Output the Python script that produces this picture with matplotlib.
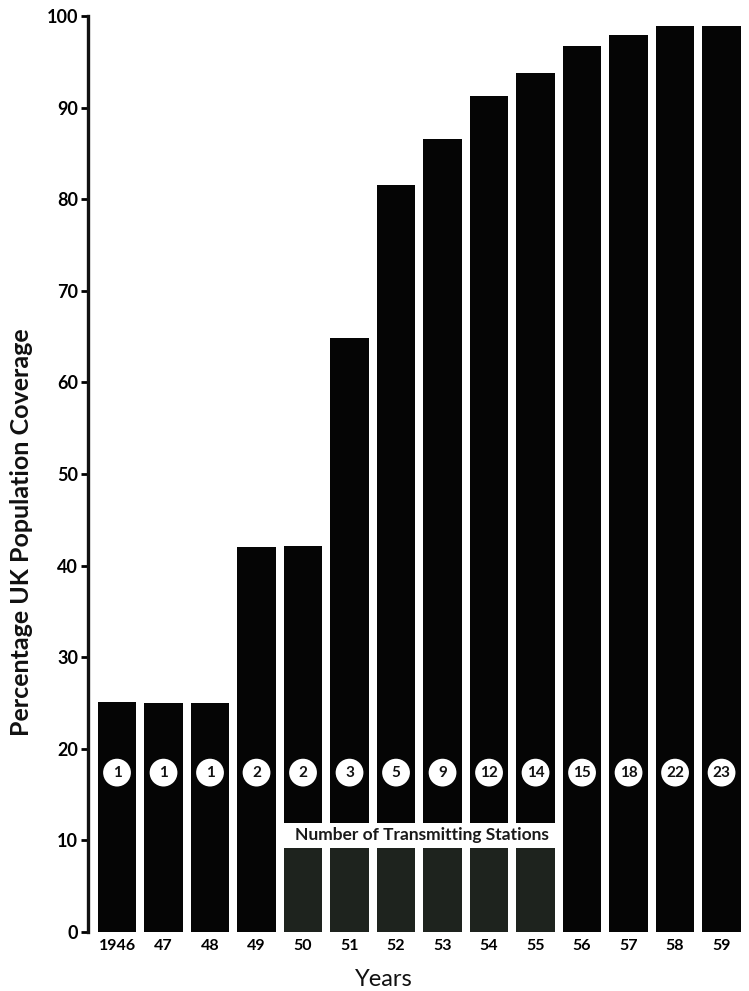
import matplotlib.pyplot as plt
import numpy as np
from matplotlib.patches import Rectangle

years = ["1946", "47", "48", "49", "50", "51", "52", "53", "54", "55", "56", "57", "58", "59"]
coverage = [25.1, 25.0, 25.0, 42.0, 42.1, 64.9, 81.5, 86.6, 91.3, 93.8, 96.7, 97.9, 98.9, 98.9]
stations = [1, 1, 1, 2, 2, 3, 5, 9, 12, 14, 15, 18, 22, 23]

# band across 1950-55 that holds the caption
band_lo, band_hi = 9.2, 11.9
band_bars = range(4, 10)

plt.rcParams['font.family'] = ['Lato', 'DejaVu Sans']

fig = plt.figure(figsize=(7.49, 9.91), dpi=100)
ax = fig.add_axes([88 / 749, 59 / 991, 661 / 749, 916 / 991])

x = np.arange(len(years))
ax.bar(x, coverage, width=0.82, color='#050505', zorder=2)

# white band and the re-drawn lower parts of the bars
ax.add_patch(Rectangle((3.5, band_lo), 6.0, band_hi - band_lo, facecolor='white',
                       edgecolor='none', zorder=3))
low = np.minimum(np.array(coverage)[list(band_bars)], band_lo)
ax.bar(x[list(band_bars)], low, width=0.82, color='#1e231e', zorder=4)
ax.text(6.55, (band_lo + band_hi) / 2, "Number of Transmitting Stations", ha='center',
        va='center', fontsize=12.5, fontweight='bold', color='#1a1a1a', zorder=5)

# station count markers
ax.scatter(x, [17.4] * len(x), s=400, color='white', edgecolors='none', zorder=5)
for xi, n in zip(x, stations):
    ax.text(xi, 17.4, str(n), ha='center', va='center', fontsize=11,
            fontweight='bold', color='#111111', zorder=6)

ax.set_xlim(-0.624, 13.59)
ax.set_ylim(0, 100)
ax.set_yticks(range(0, 101, 10))
ax.set_xticks(x)
ax.set_xticklabels(years, fontsize=11.5, fontweight='bold')
ax.tick_params(axis='x', length=0, pad=5)
ax.tick_params(axis='y', length=5, width=2, direction='out', pad=2, labelsize=13)
for lab in ax.get_yticklabels():
    lab.set_fontweight('bold')

for s in ['top', 'right', 'bottom']:
    ax.spines[s].set_visible(False)
ax.spines['left'].set_linewidth(2.4)
ax.spines['left'].set_color('#111111')

fig.text(22 / 749, 1 - 532 / 991, "Percentage UK Population Coverage", rotation=90,
         ha='center', va='center', fontsize=18, fontweight='bold', color='#111111')
fig.text(384 / 749, 1 - 980 / 991, "Years", ha='center', va='center', fontsize=17,
         color='#111111')

plt.savefig('out.png', dpi=100)
